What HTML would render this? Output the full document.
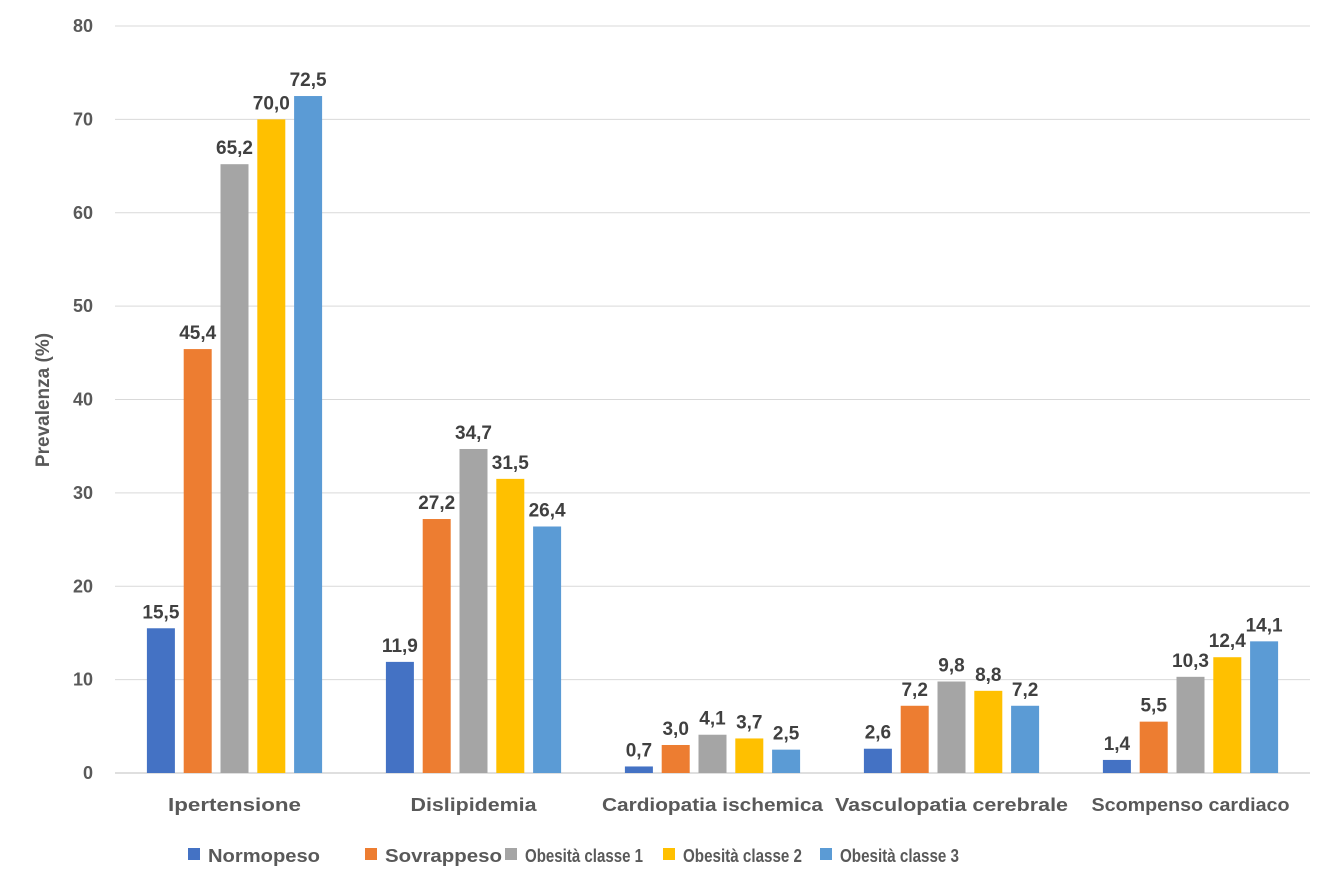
<!DOCTYPE html>
<html><head><meta charset="utf-8"><style>
html,body{margin:0;padding:0;background:#fff;width:1334px;height:889px;overflow:hidden}
text{font-family:"Liberation Sans",sans-serif;font-weight:bold}
</style></head><body>
<svg id="chart" width="1334" height="889" xmlns="http://www.w3.org/2000/svg"></svg>
<script>
const categories=["Ipertensione","Dislipidemia","Cardiopatia ischemica","Vasculopatia cerebrale","Scompenso cardiaco"];
const seriesNames=["Normopeso","Sovrappeso","Obesità classe 1","Obesità classe 2","Obesità classe 3"];
const normopeso=[15.5,11.9,0.7,2.6,1.4];
const sovrappeso=[45.4,27.2,3.0,7.2,5.5];
const obesita1=[65.2,34.7,4.1,9.8,10.3];
const obesita2=[70.0,31.5,3.7,8.8,12.4];
const obesita3=[72.5,26.4,2.5,7.2,14.1];
const yTicks=[0,10,20,30,40,50,60,70,80];
const series=[normopeso,sovrappeso,obesita1,obesita2,obesita3];
const colors=["#4472C4","#ED7D31","#A5A5A5","#FFC000","#5B9BD5"];
const catW=[133,126,221,233,198];
const legW=[112,117,118,119,119];
const svg=document.getElementById('chart');
const NS="http://www.w3.org/2000/svg";
const x0=115,x1=1310,yBase=773,yTop=26;
function y(v){return yBase-(v/80)*(yBase-yTop);}
const gw=(x1-x0)/categories.length;
function gx(i){return x0+gw*i+gw/2;}
const step=36.8,bw=28;
function mk(tag,attrs,txt){const e=document.createElementNS(NS,tag);for(const k in attrs)e.setAttribute(k,attrs[k]);if(txt!==undefined)e.textContent=txt;svg.appendChild(e);return e;}
yTicks.forEach(t=>{
  const l=mk('line',{x1:x0,x2:x1,y1:y(t),y2:y(t),stroke:t===0?'#BFBFBF':'#D9D9D9','stroke-width':1});
  
  
  const tx=mk('text',{x:93,y:y(t)+6,'text-anchor':'end','font-size':18,fill:'#595959'},String(t));
  
  
});
const yt=mk('text',{x:0,y:0,transform:'translate(49,400) rotate(-90)','text-anchor':'middle','font-size':19,fill:'#595959','font-weight':'normal'},'Prevalenza (%)');


categories.forEach((c,i)=>{
  series.forEach((s,j)=>{
    const cx=gx(i)+(j-2)*step;
    const r=mk('rect',{x:cx-bw/2,y:y(s[i]),width:bw,height:yBase-y(s[i]),fill:colors[j]});
    
    
    const lb=mk('text',{x:cx,y:y(s[i])-10,'text-anchor':'middle','font-size':19,fill:'#404040'},s[i].toFixed(1).replace('.',','));
    
    
  });
  const ct=mk('text',{x:gx(i),y:811,'text-anchor':'middle','font-size':18,fill:'#595959',textLength:catW[i],lengthAdjust:'spacingAndGlyphs'},c);
  
  
});
const lx=[188,365,505,663,820];
seriesNames.forEach((n,j)=>{
  const sq=mk('rect',{x:lx[j],y:848,width:12,height:12,fill:colors[j]});
  
  
  const t=mk('text',{x:lx[j]+20,y:862,'font-size':18,fill:'#595959',textLength:legW[j],lengthAdjust:'spacingAndGlyphs'},n);
  
  
});
</script>
</body></html>
